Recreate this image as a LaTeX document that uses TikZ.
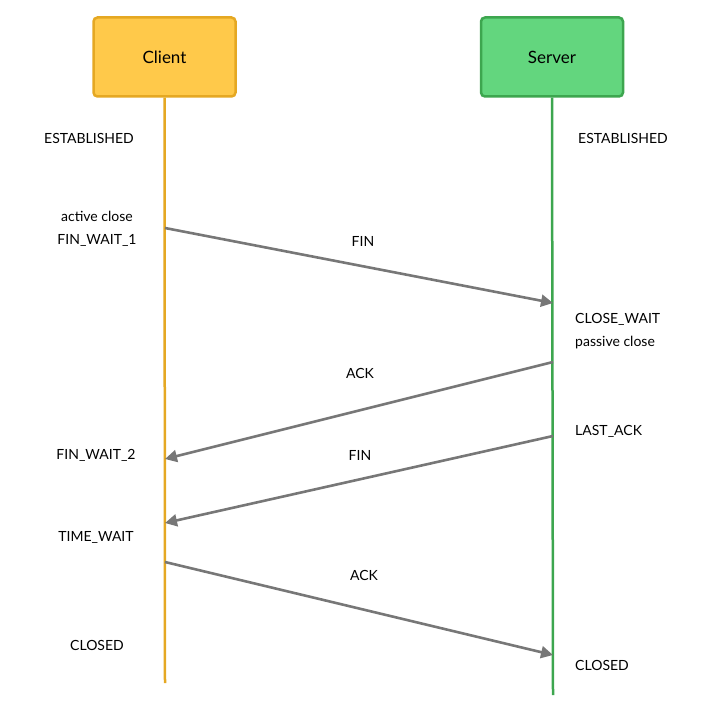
\documentclass[tikz,border=0pt]{standalone}
\usepackage{fontspec}
\setmainfont{Lato}
\usetikzlibrary{arrows.meta}
\definecolor{cfill}{HTML}{FFC94A}
\definecolor{cline}{HTML}{E5A823}
\definecolor{sfill}{HTML}{63D67E}
\definecolor{sline}{HTML}{3DA64F}
\definecolor{arr}{HTML}{777777}
\begin{document}
\begin{tikzpicture}[x=1pt,y=-1pt,
  box/.style={draw,line width=2.5pt,rounded corners=4pt,minimum width=142pt,minimum height=79pt,font=\fontsize{17}{20}\selectfont},
  lbl/.style={font=\fontsize{14}{16}\selectfont,inner sep=0pt},
  msg/.style={draw=arr,line width=2.6pt,-{Triangle[length=12pt,width=12pt]}}]
\useasboundingbox (0,0) rectangle (706,711);
\node[box,draw=cline,fill=cfill] (client) at (164.5,57) {Client};
\node[box,draw=sline,fill=sfill] (server) at (552,57) {Server};
\coordinate (ce) at (165,683);
\coordinate (se) at (553,695);
\draw[cline,line width=2.5pt] (client.south) -- (ce);
\draw[sline,line width=2.5pt] (server.south) -- (se);
\coordinate (a1) at (165,228); \coordinate (b1) at (553,303);
\coordinate (a2) at (553,362); \coordinate (b2) at (165,459);
\coordinate (a3) at (553,436); \coordinate (b3) at (165,523);
\coordinate (a4) at (165,562); \coordinate (b4) at (553,655);
\draw[msg] (a1) -- (b1);
\draw[msg] (a2) -- (b2);
\draw[msg] (a3) -- (b3);
\draw[msg] (a4) -- (b4);
\node[lbl] (m1) at (363,241) {FIN};
\node[lbl] (m2) at (360,373) {ACK};
\node[lbl] (m3) at (360,455) {FIN};
\node[lbl] (m4) at (364,575) {ACK};
\node[lbl] (l1) at (89,138) {ESTABLISHED};
\node[lbl] (r1) at (623,138) {ESTABLISHED};
\node[lbl] (l2) at (97,216) {active close};
\node[lbl] (l3) at (97,240) {FIN\_WAIT\_1};
\node[lbl,anchor=west] (r2) at (575,319) {CLOSE\_WAIT};
\node[lbl,anchor=west] (r3) at (575,343) {passive close};
\node[lbl,anchor=west] (r4) at (575,431) {LAST\_ACK};
\node[lbl] (l4) at (96,455) {FIN\_WAIT\_2};
\node[lbl] (l5) at (96,537) {TIME\_WAIT};
\node[lbl] (l6) at (97,645) {CLOSED};
\node[lbl,anchor=west] (r5) at (575,665) {CLOSED};
\end{tikzpicture}
\end{document}
